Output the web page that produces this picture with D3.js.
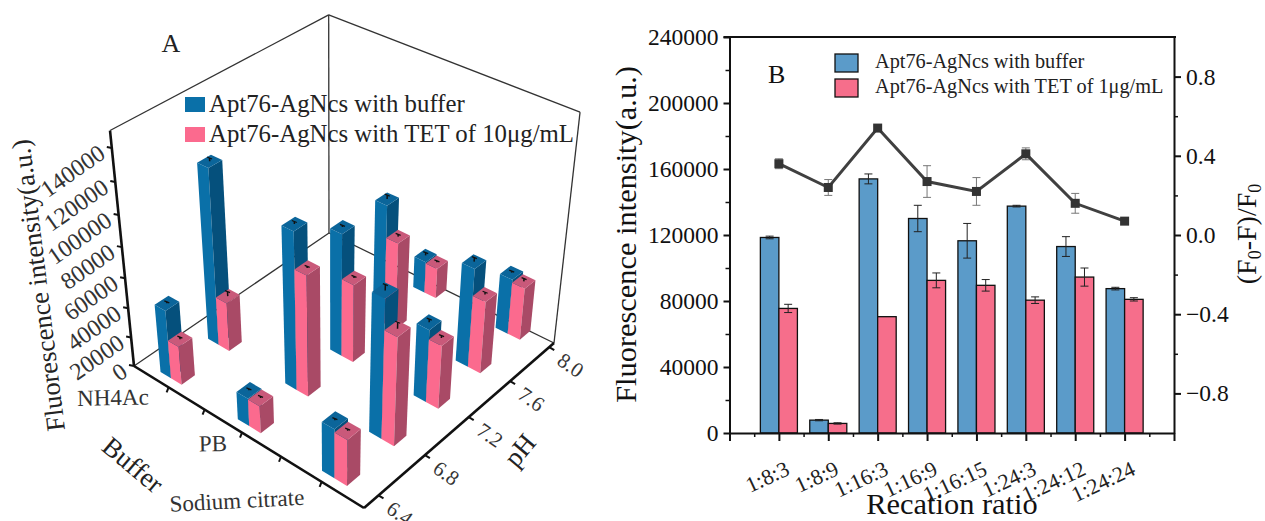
<!DOCTYPE html>
<meta charset="utf-8">
<style>
	body { margin: 0; background: #fff; }
	text { font-family: "Liberation Serif", serif; fill: #111; }
	.axis path, .axis line { stroke: #111; stroke-width: 2; }
	.axis text { font-size: 23.5px; font-family: "Liberation Serif", serif; }
	.minor line { stroke-width: 1.5; }
</style>
<svg width="1265" height="521"></svg>

<script src="https://d3js.org/d3.v7.min.js"></script>
<script>

	// PANEL A data
	var bufferNames = ["NH4Ac", "PB", "Sodium citrate"];
	var phTicks = [6.4, 6.8, 7.2, 7.6, 8.0];
	var zTicks = [0, 20000, 40000, 60000, 80000, 100000, 120000, 140000];
	var barBuffer = ["NH4Ac", "NH4Ac", "PB", "PB", "PB", "PB", "PB", "Sodium citrate", "Sodium citrate", "Sodium citrate", "Sodium citrate", "Sodium citrate"];
	var barPh = [6.4, 6.8, 6.4, 6.8, 7.2, 7.6, 8.0, 6.4, 6.8, 7.2, 7.6, 8.0];
	var apt3d = [46000, 116000, 18500, 102000, 81000, 80000, 22000, 32000, 89000, 48000, 66000, 38000];
	var tet3d = [26000, 33000, 18000, 79000, 52000, 59000, 21000, 30000, 70000, 42000, 48500, 36000];
	var aptErr3d = [1000, 2000, 1000, 1500, 1000, 2500, 2000, 1000, 3500, 2000, 2500, 1000];
	var tetErr3d = [1500, 3000, 1000, 1000, 1000, 1500, 1000, 1000, 4000, 1500, 1500, 2000];

	// PANEL B data
	var ratios = ["1:8:3", "1:8:9", "1:16:3", "1:16:9", "1:16:15", "1:24:3", "1:24:12", "1:24:24"];
	var bufferSignal = [118500, 7800, 154000, 130000, 116500, 137500, 113000, 87500];
	var bufferErr = [800, 400, 3000, 8000, 10500, 500, 6000, 800];
	var tetSignal = [75500, 5800, 70500, 92500, 89500, 80500, 94500, 81000];
	var tetErr = [2500, 400, 0, 4500, 3500, 2000, 5500, 1000];
	var quench = [0.36, 0.24, 0.54, 0.27, 0.22, 0.41, 0.16, 0.07];
	var quenchErr = [0.025, 0.04, 0.01, 0.08, 0.07, 0.03, 0.05, 0.01];

	var svg = d3.select("svg");

	//PANEL A

	var gA = svg.append("g");

	var uScale = d3.scalePoint().domain(bufferNames).range([-0.038, 1.031]).padding(0.5),
	vScale = d3.scaleLinear().domain([6.28, 8.05]).range([0, 1]),
	wScale = d3.scaleLinear().domain([0, 150000]).range([0, 1]);

	// floor corners of the box on screen, and where the verticals converge
	var cL = [134, 366], cF = [364, 508], cR = [554, 343], cB = [329, 233],
	vanish = [332, 2311],
	kL = 0.108, kF = 0.125, kR = 0.105, kB = 0.095;

	var dx1 = cF[0] - cR[0], dx2 = cB[0] - cR[0], sx = cL[0] - cF[0] + cR[0] - cB[0],
	dy1 = cF[1] - cR[1], dy2 = cB[1] - cR[1], sy = cL[1] - cF[1] + cR[1] - cB[1],
	den = dx1 * dy2 - dx2 * dy1,
	hg = (sx * dy2 - dx2 * sy) / den,
	hh = (dx1 * sy - sx * dy1) / den;

	function project(u, v, w) {
		var q = hg * u + hh * v + 1;
		var fx = ((cF[0] - cL[0] + hg * cF[0]) * u + (cB[0] - cL[0] + hh * cB[0]) * v + cL[0]) / q,
		fy = ((cF[1] - cL[1] + hg * cF[1]) * u + (cB[1] - cL[1] + hh * cB[1]) * v + cL[1]) / q;
		var k = kL * (1 - u) * (1 - v) + kF * u * (1 - v) + kR * u * v + kB * (1 - u) * v;
		var s = 1 / (1 - k * w);
		return [vanish[0] + (fx - vanish[0]) * s, vanish[1] + (fy - vanish[1]) * s];
	}

	var line3d = d3.line();

	function edge(a, b, width, color) {
		gA.append("path")
			.attr("d", line3d([project.apply(null, a), project.apply(null, b)]))
			.attr("fill", "none")
			.attr("stroke", color)
			.attr("stroke-width", width);
	}

	// thin back edges
	edge([0, 0, 0], [0, 1, 0], 1.3, "#333");
	edge([0, 1, 0], [1, 1, 0], 1.3, "#333");
	edge([0, 1, 0], [0, 1, 1], 1.3, "#333");
	edge([1, 1, 0], [1, 1, 1], 1.3, "#333");
	edge([0, 0, 1], [0, 1, 1], 1.3, "#333");
	edge([0, 1, 1], [1, 1, 1], 1.3, "#333");

	// LEGEND A sits under the bars
	var legendA = [
		{ label: "Apt76-AgNcs with buffer", color: "#0a70a8", y: 97 },
		{ label: "Apt76-AgNcs with TET of 10μg/mL", color: "#fb6a8e", y: 127 }
	];
	legendA.forEach(function(d) {
		gA.append("rect").attr("x", 185).attr("y", d.y).attr("width", 20).attr("height", 15).attr("fill", d.color);
		gA.append("text").attr("x", 209).attr("y", d.y + 15).style("font-size", "24.8px").style("fill", "#222").text(d.label);
	});

	var barDu = 0.025, barDv = 0.062, barGap = 0.025;

	var bars = [];
	barBuffer.forEach(function(b, i) {
		var u = uScale(b), v = vScale(barPh[i]);
		bars.push({ u: u - barGap, v: v, z: apt3d[i], err: aptErr3d[i], light: "#0a70a8", dark: "#05507c", top: "#0b659a" });
		bars.push({ u: u + barGap, v: v, z: tet3d[i], err: tetErr3d[i], light: "#fb6a8e", dark: "#a94a66", top: "#c9597a" });
	});
	bars.sort(function(a, b) { return (a.u - a.v) - (b.u - b.v); });

	bars.forEach(function(d) {
		var u0 = d.u - barDu, u1 = d.u + barDu, v0 = d.v - barDv / 2, v1 = d.v + barDv / 2, w = wScale(d.z);
		var faces = [
			{ fill: d.light, pts: [[u0, v0, 0], [u1, v0, 0], [u1, v0, w], [u0, v0, w]] },
			{ fill: d.dark, pts: [[u1, v0, 0], [u1, v1, 0], [u1, v1, w], [u1, v0, w]] },
			{ fill: d.top, pts: [[u0, v0, w], [u1, v0, w], [u1, v1, w], [u0, v1, w]] }
		];
		faces.forEach(function(f) {
			gA.append("path")
				.attr("d", line3d(f.pts.map(function(p) { return project(p[0], p[1], p[2]); })) + "Z")
				.attr("fill", f.fill);
		});
		var a = project(d.u, d.v, w), b = project(d.u, d.v, wScale(d.z + d.err));
		gA.append("path").attr("d", line3d([a, b])).attr("stroke", "#111").attr("stroke-width", 1.5).attr("fill", "none");
		gA.append("path").attr("d", line3d([[b[0] - 2.5, b[1] - 1], [b[0] + 2.5, b[1] + 1]])).attr("stroke", "#111").attr("stroke-width", 1.3);
	});

	// heavy front edges
	edge([0, 0, 0], [0, 0, 1], 2.6, "#111");
	edge([0, 0, 0], [1, 0, 0], 2.6, "#111");
	edge([1, 0, 0], [1, 1, 0], 2.6, "#111");

	// z ticks
	zTicks.forEach(function(t) {
		var p = project(0, 0, wScale(t));
		gA.append("path").attr("d", line3d([p, [p[0] - 5, p[1] - 1]])).attr("stroke", "#111").attr("stroke-width", 2);
		gA.append("text")
			.attr("transform", "translate(" + [p[0] - 5, p[1] + 9] + ") rotate(-35)")
			.attr("text-anchor", "end")
			.style("font-size", "24px").style("fill", "#333")
			.text(t);
	});

	// buffer ticks, every sixth of the edge
	d3.range(1, 6).forEach(function(i) {
		var p = project(i / 6, 0, 0);
		gA.append("path").attr("d", line3d([p, [p[0] - 2, p[1] + 5]])).attr("stroke", "#111").attr("stroke-width", 2);
	});

	// ph ticks
	phTicks.forEach(function(t) {
		var p = project(1, vScale(t), 0);
		gA.append("path").attr("d", line3d([p, [p[0] + 5, p[1] + 3]])).attr("stroke", "#111").attr("stroke-width", 2);
		gA.append("text")
			.attr("transform", "translate(" + [p[0] + 20, p[1] + 20] + ") rotate(35)")
			.attr("text-anchor", "middle").attr("dominant-baseline", "middle")
			.style("font-size", "21px").style("fill", "#333")
			.text(t.toFixed(1));
	});

	var bufferLabelPos = [[113, 400], [213, 446], [237, 503]];
	bufferNames.forEach(function(b, i) {
		gA.append("text")
			.attr("transform", "translate(" + bufferLabelPos[i] + ") rotate(" + (i == 2 ? -3 : -1) + ")")
			.attr("text-anchor", "middle").attr("dominant-baseline", "middle")
			.style("font-size", "23px").style("fill", "#333")
			.text(b);
	});

	function labelA(txt, x, y, rot, size) {
		gA.append("text")
			.attr("transform", "translate(" + [x, y] + ") rotate(" + rot + ")")
			.attr("text-anchor", "middle").attr("dominant-baseline", "middle")
			.style("font-size", size + "px").style("fill", "#222")
			.text(txt);
	}
	labelA("Fluorescence intensity(a.u.)", 41, 285, -97, 26.5);
	labelA("Buffer", 131, 467, 40, 27);
	labelA("pH", 522, 452, -50, 27);
	labelA("A", 171, 46, 0, 26);

	//PANEL B

	var plotLeft = 729.5, plotRight = 1174, plotTop = 37, plotBottom = 433;

	var gB = svg.append("g");

	var x = d3.scalePoint().domain(ratios).range([plotLeft, plotRight]).padding(1),
	y = d3.scaleLinear().domain([0, 240000]).range([plotBottom, plotTop]),
	y2 = d3.scaleLinear().domain([-1, 1]).range([plotBottom, plotTop]);

	var barW = x.step() * 0.375;

	function drawBars(values, errs, offset, color) {
		gB.selectAll(null)
			.data(values)
			.enter().append("rect")
			.attr("x", function(d, i) { return x(ratios[i]) + offset; })
			.attr("y", function(d) { return y(d); })
			.attr("width", barW)
			.attr("height", function(d) { return plotBottom - y(d); })
			.attr("fill", color)
			.attr("stroke", "#111")
			.attr("stroke-width", 1.3);

		values.forEach(function(d, i) {
			var cx = x(ratios[i]) + offset + barW / 2;
			if (!errs[i]) return;
			gB.append("path")
				.attr("d", "M" + (cx - 4) + "," + y(d + errs[i]) + "h8M" + cx + "," + y(d + errs[i]) + "V" + y(d - errs[i]) + "M" + (cx - 4) + "," + y(d - errs[i]) + "h8")
				.attr("stroke", "#222").attr("stroke-width", 1).attr("fill", "none");
		});
	}
	drawBars(bufferSignal, bufferErr, -barW, "#5b9bc9");
	drawBars(tetSignal, tetErr, 0, "#f66e8b");

	// RATE LINE
	quench.forEach(function(d, i) {
		var cx = x(ratios[i]);
		gB.append("path")
			.attr("d", "M" + (cx - 4) + "," + y2(d + quenchErr[i]) + "h8M" + cx + "," + y2(d + quenchErr[i]) + "V" + y2(d - quenchErr[i]) + "M" + (cx - 4) + "," + y2(d - quenchErr[i]) + "h8")
			.attr("stroke", "#777").attr("stroke-width", 1).attr("fill", "none");
	});

	gB.append("path")
		.datum(quench)
		.attr("fill", "none")
		.attr("stroke", "#404040")
		.attr("stroke-width", 3)
		.attr("d", d3.line()
			.x(function(d, i) { return x(ratios[i]); })
			.y(function(d) { return y2(d); }));

	gB.selectAll(".mark")
		.data(quench)
		.enter().append("rect")
		.attr("class", "mark")
		.attr("x", function(d, i) { return x(ratios[i]) - 4.5; })
		.attr("y", function(d) { return y2(d) - 4.5; })
		.attr("width", 9)
		.attr("height", 9)
		.attr("fill", "#333");

	// AXES
	var xAxis = d3.axisBottom(x).tickSize(8).tickSizeOuter(0).tickFormat("");
	gB.append("g").attr("class", "axis").attr("transform", "translate(0," + plotBottom + ")").call(xAxis);

	var xMid = d3.range(0, 9).map(function(i) { return plotLeft + x.step() * (i + 0.5); });
	gB.append("g").attr("class", "axis minor").attr("transform", "translate(0," + plotBottom + ")")
		.call(d3.axisBottom(d3.scaleIdentity()).tickValues(xMid).tickSize(4).tickSizeOuter(0).tickFormat(""))
		.select(".domain").remove();
	gB.append("g").attr("class", "axis").attr("transform", "translate(0," + plotBottom + ")")
		.call(d3.axisBottom(d3.scaleIdentity()).tickValues([plotLeft, plotRight]).tickSize(8).tickSizeOuter(0).tickFormat(""))
		.select(".domain").remove();

	gB.append("g").attr("class", "axis").attr("transform", "translate(" + plotLeft + ",0)")
		.call(d3.axisLeft(y).tickValues(d3.range(0, 240001, 40000)).tickSize(6).tickPadding(5).tickSizeOuter(0).tickFormat(d3.format("d")));
	gB.append("g").attr("class", "axis minor").attr("transform", "translate(" + plotLeft + ",0)")
		.call(d3.axisLeft(y).tickValues(d3.range(20000, 240000, 40000)).tickSize(4).tickFormat(""))
		.select(".domain").remove();

	gB.append("g").attr("class", "axis").attr("transform", "translate(" + plotRight + ",0)")
		.call(d3.axisRight(y2).tickValues([-0.8, -0.4, 0, 0.4, 0.8]).tickSize(7).tickPadding(5).tickSizeOuter(0).tickFormat(d3.format(".1f")));
	gB.append("g").attr("class", "axis minor").attr("transform", "translate(" + plotRight + ",0)")
		.call(d3.axisRight(y2).tickValues([-0.6, -0.2, 0.2, 0.6]).tickSize(4).tickFormat(""))
		.select(".domain").remove();

	gB.append("path")
		.attr("d", "M" + (plotLeft - 6) + "," + plotTop + "H" + (plotRight + 2))
		.attr("stroke", "#111").attr("stroke-width", 2);

	ratios.forEach(function(r) {
		gB.append("text")
			.attr("transform", "translate(" + [x(r) + 12, 474] + ") rotate(-25)")
			.attr("text-anchor", "end")
			.style("font-size", "22px").style("fill", "#222")
			.text(r);
	});

	// TITLES
	gB.append("text").attr("x", 952).attr("y", 514).attr("text-anchor", "middle").style("font-size", "30.4px").text("Recation ratio");

	gB.append("text")
		.attr("transform", "translate(636,234.5) rotate(-90)")
		.attr("text-anchor", "middle").style("font-size", "30.4px")
		.text("Fluorescence intensity(a.u.)");

	var rightTitle = gB.append("text")
		.attr("transform", "translate(1256,234) rotate(-90)")
		.attr("text-anchor", "middle").style("font-size", "28px");
	rightTitle.append("tspan").text("(F");
	rightTitle.append("tspan").attr("dy", 5).style("font-size", "18px").text("0");
	rightTitle.append("tspan").attr("dy", -5).text("-F)/F");
	rightTitle.append("tspan").attr("dy", 5).style("font-size", "18px").text("0");

	gB.append("text").attr("x", 768).attr("y", 83).style("font-size", "26px").text("B");

	var legendB = [
		{ label: "Apt76-AgNcs with buffer", color: "#5b9bc9", y: 54 },
		{ label: "Apt76-AgNcs with TET of 1μg/mL", color: "#f66e8b", y: 79 }
	];
	legendB.forEach(function(d) {
		gB.append("rect").attr("x", 835).attr("y", d.y).attr("width", 23).attr("height", 18)
			.attr("fill", d.color).attr("stroke", "#111").attr("stroke-width", 1.3);
		gB.append("text").attr("x", 875).attr("y", d.y + 14).style("font-size", "20.3px").style("fill", "#222").text(d.label);
	});

</script>
